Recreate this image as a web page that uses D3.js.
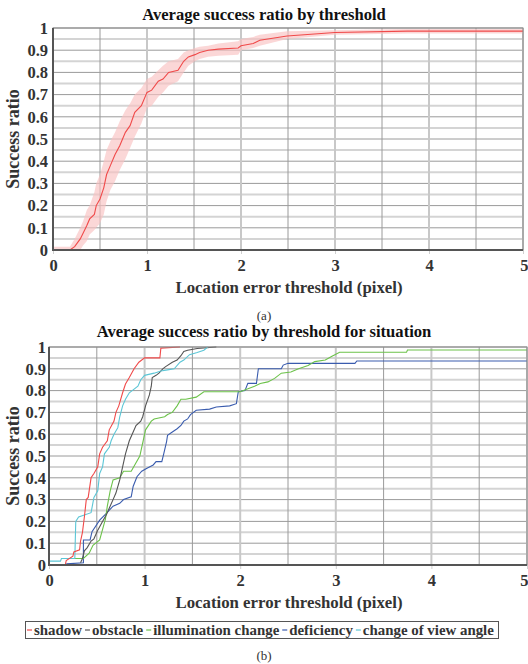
<!DOCTYPE html>
<html><head><meta charset="utf-8">
<script src="https://cdn.jsdelivr.net/npm/d3@7"></script>
<style>
html,body{margin:0;padding:0;background:#fff;}
svg text{font-family:"Liberation Serif","Times New Roman",serif;}
</style>
</head><body>
<svg id="c" width="528" height="664"></svg>
<script>
// ---------- DATA ----------
const xTicks = [0, 1, 2, 3, 4, 5];
const yTicks = [0, 0.1, 0.2, 0.3, 0.4, 0.5, 0.6, 0.7, 0.8, 0.9, 1];

// (a) average success ratio by threshold
const avgX     = [0, 0.18, 0.23, 0.29, 0.32, 0.36, 0.39, 0.44, 0.46, 0.5, 0.54, 0.57, 0.61, 0.66, 0.71, 0.77, 0.82, 0.87, 0.94, 1.0, 1.05, 1.12, 1.17, 1.23, 1.33, 1.39, 1.44, 1.51, 1.56, 1.65, 1.76, 1.97, 2.0, 2.13, 2.2, 2.49, 3.0, 3.77, 5.0];
const avgMean  = [0, 0, 0.015, 0.05, 0.075, 0.11, 0.14, 0.16, 0.2, 0.23, 0.28, 0.34, 0.38, 0.43, 0.47, 0.53, 0.56, 0.62, 0.65, 0.71, 0.72, 0.76, 0.77, 0.80, 0.81, 0.85, 0.87, 0.88, 0.89, 0.90, 0.905, 0.91, 0.92, 0.93, 0.945, 0.964, 0.98, 0.986, 0.986];
const avgLower = [0, 0, 0, 0, 0.02, 0.04, 0.07, 0.09, 0.1, 0.12, 0.16, 0.22, 0.27, 0.31, 0.36, 0.41, 0.46, 0.51, 0.57, 0.64, 0.65, 0.69, 0.71, 0.74, 0.76, 0.8, 0.83, 0.85, 0.86, 0.87, 0.875, 0.88, 0.9, 0.91, 0.92, 0.95, 0.97, 0.975, 0.975];
const avgUpper = [0.015, 0.015, 0.05, 0.1, 0.13, 0.18, 0.2, 0.26, 0.3, 0.34, 0.4, 0.45, 0.49, 0.53, 0.58, 0.63, 0.66, 0.7, 0.73, 0.77, 0.78, 0.81, 0.83, 0.85, 0.86, 0.89, 0.9, 0.91, 0.915, 0.92, 0.93, 0.94, 0.95, 0.96, 0.97, 0.985, 0.99, 0.995, 0.995];

// (b) success ratio by threshold for each situation
const situationNames = ["shadow", "obstacle", "illumination change", "deficiency", "change of view angle"];

const shadowX = [0.17, 0.18, 0.25, 0.26, 0.32, 0.33, 0.35, 0.37, 0.39, 0.41, 0.44, 0.47, 0.51, 0.53, 0.56, 0.61, 0.63, 0.68, 0.70, 0.73, 0.77, 0.80, 0.84, 0.89, 0.94, 1.0, 1.16, 1.17, 1.37];
const shadowY = [0, 0.02, 0.04, 0.06, 0.07, 0.11, 0.15, 0.22, 0.30, 0.31, 0.40, 0.42, 0.45, 0.51, 0.54, 0.57, 0.62, 0.66, 0.70, 0.73, 0.79, 0.83, 0.86, 0.90, 0.93, 0.95, 0.95, 0.995, 1.0];

const obstacleX = [0.33, 0.35, 0.37, 0.40, 0.44, 0.47, 0.51, 0.56, 0.60, 0.63, 0.67, 0.70, 0.74, 0.77, 0.80, 0.84, 0.87, 0.91, 0.96, 0.98, 1.01, 1.05, 1.07, 1.08, 1.12, 1.15, 1.19, 1.22, 1.29, 1.34, 1.38, 1.41, 1.45, 1.55, 1.75];
const obstacleY = [0.01, 0.03, 0.065, 0.08, 0.11, 0.12, 0.16, 0.20, 0.23, 0.26, 0.30, 0.33, 0.39, 0.45, 0.51, 0.57, 0.60, 0.64, 0.66, 0.68, 0.73, 0.78, 0.82, 0.86, 0.87, 0.88, 0.90, 0.91, 0.93, 0.94, 0.96, 0.98, 0.985, 0.993, 1.0];

const illumX = [0.27, 0.36, 0.42, 0.46, 0.53, 0.59, 0.61, 0.64, 0.67, 0.74, 0.78, 0.86, 0.95, 0.99, 1.01, 1.07, 1.10, 1.21, 1.24, 1.29, 1.34, 1.38, 1.43, 1.54, 1.62, 2.0, 2.15, 2.21, 2.29, 2.36, 2.43, 2.53, 2.61, 2.71, 2.78, 2.89, 2.96, 3.04, 3.74, 3.75, 5.0];
const illumY = [0.03, 0.03, 0.054, 0.09, 0.115, 0.21, 0.27, 0.34, 0.39, 0.40, 0.43, 0.43, 0.50, 0.58, 0.62, 0.66, 0.67, 0.68, 0.69, 0.70, 0.73, 0.76, 0.76, 0.77, 0.795, 0.795, 0.82, 0.833, 0.84, 0.856, 0.88, 0.885, 0.90, 0.915, 0.933, 0.94, 0.958, 0.976, 0.976, 0.986, 0.986];

const deficX = [0.18, 0.36, 0.36, 0.43, 0.45, 0.53, 0.60, 0.67, 0.74, 0.78, 0.86, 0.88, 0.92, 0.97, 1.02, 1.09, 1.12, 1.18, 1.20, 1.23, 1.24, 1.29, 1.34, 1.38, 1.41, 1.45, 1.48, 1.54, 1.68, 1.75, 1.89, 1.96, 1.98, 2.05, 2.08, 2.17, 2.19, 2.43, 2.45, 2.50, 3.20, 3.22, 5.0];
const deficY = [0.005, 0.01, 0.115, 0.115, 0.153, 0.206, 0.237, 0.27, 0.283, 0.30, 0.313, 0.36, 0.405, 0.43, 0.443, 0.459, 0.474, 0.474, 0.51, 0.566, 0.595, 0.61, 0.625, 0.64, 0.66, 0.67, 0.69, 0.71, 0.715, 0.725, 0.73, 0.74, 0.795, 0.80, 0.833, 0.833, 0.90, 0.90, 0.917, 0.925, 0.925, 0.936, 0.936];

const viewX = [0, 0.12, 0.13, 0.27, 0.28, 0.31, 0.44, 0.47, 0.51, 0.53, 0.56, 0.58, 0.63, 0.65, 0.68, 0.72, 0.74, 0.77, 0.80, 0.84, 0.87, 0.93, 0.96, 1.0, 1.10, 1.17, 1.24, 1.31, 1.37, 1.41, 1.47, 1.55, 1.62, 1.66];
const viewY = [0.018, 0.018, 0.03, 0.03, 0.20, 0.22, 0.24, 0.31, 0.34, 0.42, 0.45, 0.51, 0.54, 0.57, 0.60, 0.63, 0.68, 0.73, 0.76, 0.79, 0.80, 0.82, 0.85, 0.87, 0.88, 0.89, 0.895, 0.90, 0.93, 0.94, 0.965, 0.975, 0.985, 1.0];

// ---------- STYLE ----------
const situationColors = ["#f04a4a", "#555555", "#6cc24a", "#3a5cae", "#5cc6d6"];
const FONT = '"Liberation Serif","Times New Roman",serif';
const TXT = "#333";

const svg = d3.select("#c");
svg.append("rect").attr("width", 528).attr("height", 664).attr("fill", "#fff");

function panel(box, title, titleY, axisLabelY, yLabelX) {
  const x = d3.scaleLinear().domain([0, 5]).range([box.l, box.r]);
  const y = d3.scaleLinear().domain([0, 1]).range([box.b, box.t]);
  const g = svg.append("g");
  // grid
  const hg = d3.range(0, 21).map(i => i / 20);
  g.selectAll(".hg").data(hg).join("line")
    .attr("x1", box.l).attr("x2", box.r)
    .attr("y1", d => y(d)).attr("y2", d => y(d))
    .attr("stroke", (d, i) => i % 2 === 0 ? "#9a9a9a" : "#d4d4d4")
    .attr("stroke-width", (d, i) => i % 2 === 0 ? 1 : 2);
  const vg = d3.range(0, 11).map(i => i / 2);
  g.selectAll(".vg").data(vg).join("line")
    .attr("y1", box.t).attr("y2", box.b)
    .attr("x1", d => x(d)).attr("x2", d => x(d))
    .attr("stroke", (d, i) => i % 2 === 0 ? "#c8c8c8" : "#9a9a9a")
    .attr("stroke-width", (d, i) => i % 2 === 0 ? 2 : 1);
  // axes tick labels
  const ya = d3.axisLeft(y).tickValues(yTicks)
    .tickFormat(d => d === 0 ? "0" : d === 1 ? "1" : d3.format(".1f")(d))
    .tickSize(0).tickPadding(box.yPad);
  const yag = svg.append("g").attr("transform", `translate(${box.l},0)`).call(ya);
  const xa = d3.axisBottom(x).tickValues(xTicks).tickFormat(d3.format("d"))
    .tickSize(4).tickPadding(5);
  const xag = svg.append("g").attr("transform", `translate(0,${box.b})`).call(xa);
  [yag, xag].forEach(a => {
    a.select(".domain").remove();
    a.selectAll("line").attr("stroke", "#cfcfcf");
    a.selectAll("text").attr("font-family", FONT).attr("font-weight", "bold")
      .attr("font-size", 16.5).attr("fill", TXT);
  });
  // keep the last x label inside the page
  xag.selectAll(".tick").filter(d => d === 5).select("text")
    .attr("text-anchor", "end").attr("x", 528 - box.r);
  // title & labels
  svg.append("text").attr("x", 264).attr("y", titleY).attr("text-anchor", "middle")
    .attr("font-family", FONT).attr("font-weight", "bold").attr("font-size", 16.6).attr("fill", "#111")
    .text(title);
  svg.append("text").attr("x", 289).attr("y", axisLabelY).attr("text-anchor", "middle")
    .attr("font-family", FONT).attr("font-weight", "bold").attr("font-size", 16.8).attr("fill", TXT)
    .text("Location error threshold (pixel)");
  svg.append("text")
    .attr("transform", `translate(${yLabelX},${(box.t + box.b) / 2}) rotate(-90)`)
    .attr("text-anchor", "middle")
    .attr("font-family", FONT).attr("font-weight", "bold").attr("font-size", 18).attr("fill", TXT)
    .text("Success ratio");
  return {x, y, g};
}

function frame(box) {
  svg.append("rect").attr("x", box.l).attr("y", box.t)
    .attr("width", box.r - box.l).attr("height", box.b - box.t)
    .attr("fill", "none").attr("stroke", "#8a8a8a").attr("stroke-width", 1);
  svg.append("line").attr("x1", box.l).attr("x2", box.l).attr("y1", box.t).attr("y2", box.b + 1)
    .attr("stroke", "#555").attr("stroke-width", 2);
  svg.append("line").attr("x1", box.l - 1).attr("x2", box.r).attr("y1", box.b).attr("y2", box.b)
    .attr("stroke", "#555").attr("stroke-width", 2);
}

// ----- panel (a) -----
const boxA = {l: 53, r: 523, t: 28, b: 250, yPad: 5};
const A = panel(boxA, "Average success ratio by threshold", 20, 293, 19);
const rowsA = avgX.map((v, i) => ({x: v, m: avgMean[i], lo: avgLower[i], hi: avgUpper[i]}));
A.g.append("path").datum(rowsA)
  .attr("d", d3.area().x(d => A.x(d.x)).y0(d => A.y(d.lo)).y1(d => A.y(d.hi)))
  .attr("fill", "#f9c2c2").attr("fill-opacity", 0.65);
A.g.append("path").datum(rowsA)
  .attr("d", d3.line().x(d => A.x(d.x)).y(d => A.y(d.m)))
  .attr("fill", "none").attr("stroke", "#f04a4a").attr("stroke-width", 1.1);
frame(boxA);
svg.append("text").attr("x", 264).attr("y", 320).attr("text-anchor", "middle")
  .attr("font-family", FONT).attr("font-size", 13).attr("fill", "#333").text("(a)");

// ----- panel (b) -----
const boxB = {l: 49, r: 527, t: 347, b: 565, yPad: 3};
const B = panel(boxB, "Average success ratio by threshold for situation", 337, 608, 19);
const seriesB = [
  {x: shadowX, y: shadowY},
  {x: obstacleX, y: obstacleY},
  {x: illumX, y: illumY},
  {x: deficX, y: deficY},
  {x: viewX, y: viewY}
].map((s, k) => ({name: situationNames[k], color: situationColors[k],
  pts: s.x.map((v, i) => [v, s.y[i]])}));
const lineB = d3.line().x(d => B.x(d[0])).y(d => B.y(d[1]));
[3, 2, 1, 4, 0].forEach(k => {
  B.g.append("path").datum(seriesB[k].pts).attr("d", lineB)
    .attr("fill", "none").attr("stroke", seriesB[k].color).attr("stroke-width", 1.1);
});
frame(boxB);

// legend (fit the items to the box width)
const lg = svg.append("g");
lg.append("rect").attr("x", 25.5).attr("y", 621.5).attr("width", 473).attr("height", 17)
  .attr("fill", "#fff").attr("stroke", "#555").attr("stroke-width", 1);
const probe = lg.append("text").attr("font-family", FONT).attr("font-weight", "bold").attr("font-size", 14);
let base = 0;
situationNames.forEach(n => { probe.text(n); base += probe.node().getComputedTextLength(); });
probe.remove();
const legFont = 14 * (470 - situationNames.length * 10) / base;
let cx = 27;
seriesB.forEach(s => {
  lg.append("line").attr("x1", cx).attr("x2", cx + 5).attr("y1", 630).attr("y2", 630)
    .attr("stroke", s.color).attr("stroke-width", 1.2);
  const t = lg.append("text").attr("x", cx + 7).attr("y", 634.5)
    .attr("font-family", FONT).attr("font-weight", "bold").attr("font-size", legFont).attr("fill", TXT)
    .text(s.name);
  cx += 7 + t.node().getComputedTextLength() + 3;
});
svg.append("text").attr("x", 264).attr("y", 660).attr("text-anchor", "middle")
  .attr("font-family", FONT).attr("font-size", 13).attr("fill", "#333").text("(b)");
</script>
</body></html>
